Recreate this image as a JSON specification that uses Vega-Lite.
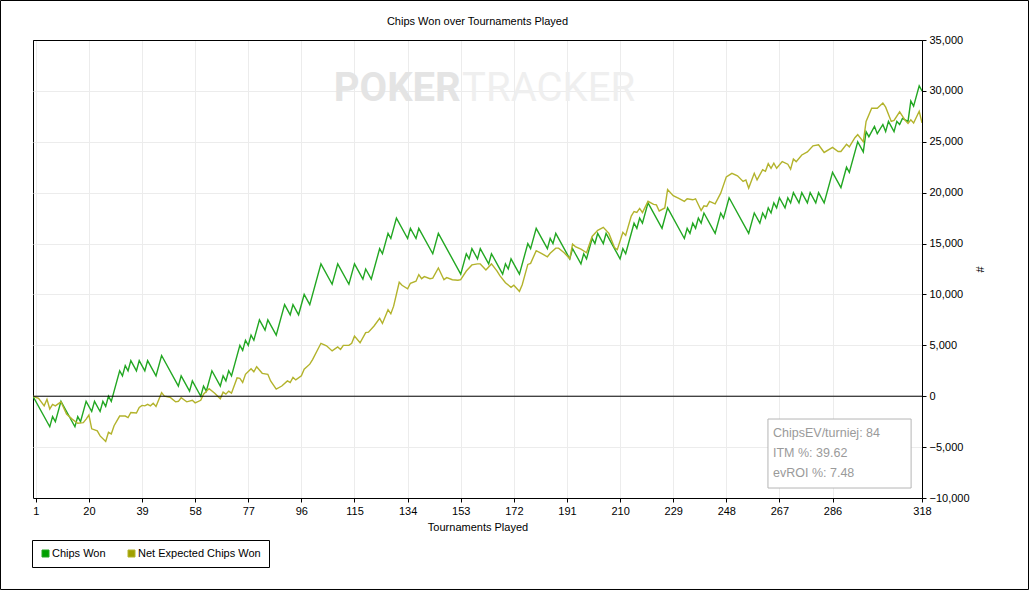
{
  "$schema": "https://vega.github.io/schema/vega-lite/v6.json",
  "width": 889,
  "height": 458,
  "autosize": {"type": "none"},
  "padding": {"left": 33, "top": 40, "right": 107, "bottom": 92},
  "background": "white",
  "title": {"text": "Chips Won over Tournaments Played", "fontSize": 11, "fontWeight": "normal", "font": "Liberation Sans", "color": "black", "offset": -27, "frame": "group"},
  "datasets": {
    "chips": [
      {"tournament":0,"series":"Chips Won","chips":0},{"tournament":6,"series":"Chips Won","chips":-3000},{"tournament":7,"series":"Chips Won","chips":-2000},{"tournament":8,"series":"Chips Won","chips":-2500},{"tournament":10,"series":"Chips Won","chips":-500},{"tournament":15,"series":"Chips Won","chips":-3000},{"tournament":16,"series":"Chips Won","chips":-2000},{"tournament":17,"series":"Chips Won","chips":-2500},{"tournament":19,"series":"Chips Won","chips":-500},{"tournament":21,"series":"Chips Won","chips":-1500},{"tournament":22,"series":"Chips Won","chips":-500},{"tournament":24,"series":"Chips Won","chips":-1500},{"tournament":25,"series":"Chips Won","chips":-500},{"tournament":26,"series":"Chips Won","chips":-1000},{"tournament":27,"series":"Chips Won","chips":0},{"tournament":28,"series":"Chips Won","chips":-500},{"tournament":31,"series":"Chips Won","chips":2500},{"tournament":32,"series":"Chips Won","chips":2000},{"tournament":33,"series":"Chips Won","chips":3000},{"tournament":34,"series":"Chips Won","chips":2500},{"tournament":35,"series":"Chips Won","chips":3500},{"tournament":37,"series":"Chips Won","chips":2500},{"tournament":38,"series":"Chips Won","chips":3500},{"tournament":40,"series":"Chips Won","chips":2500},{"tournament":41,"series":"Chips Won","chips":3500},{"tournament":44,"series":"Chips Won","chips":2000},{"tournament":46,"series":"Chips Won","chips":4000},{"tournament":52,"series":"Chips Won","chips":1000},{"tournament":53,"series":"Chips Won","chips":2000},{"tournament":56,"series":"Chips Won","chips":500},{"tournament":57,"series":"Chips Won","chips":1500},{"tournament":60,"series":"Chips Won","chips":0},{"tournament":61,"series":"Chips Won","chips":1000},{"tournament":62,"series":"Chips Won","chips":500},{"tournament":64,"series":"Chips Won","chips":2500},{"tournament":67,"series":"Chips Won","chips":1000},{"tournament":68,"series":"Chips Won","chips":2000},{"tournament":69,"series":"Chips Won","chips":1500},{"tournament":70,"series":"Chips Won","chips":2500},{"tournament":71,"series":"Chips Won","chips":2000},{"tournament":74,"series":"Chips Won","chips":5000},{"tournament":75,"series":"Chips Won","chips":4500},{"tournament":76,"series":"Chips Won","chips":5500},{"tournament":77,"series":"Chips Won","chips":5000},{"tournament":78,"series":"Chips Won","chips":6000},{"tournament":79,"series":"Chips Won","chips":5500},{"tournament":81,"series":"Chips Won","chips":7500},{"tournament":83,"series":"Chips Won","chips":6500},{"tournament":84,"series":"Chips Won","chips":7500},{"tournament":87,"series":"Chips Won","chips":6000},{"tournament":90,"series":"Chips Won","chips":9000},{"tournament":92,"series":"Chips Won","chips":8000},{"tournament":93,"series":"Chips Won","chips":9000},{"tournament":95,"series":"Chips Won","chips":8000},{"tournament":97,"series":"Chips Won","chips":10000},{"tournament":99,"series":"Chips Won","chips":9000},{"tournament":103,"series":"Chips Won","chips":13000},{"tournament":107,"series":"Chips Won","chips":11000},{"tournament":109,"series":"Chips Won","chips":13000},{"tournament":113,"series":"Chips Won","chips":11000},{"tournament":115,"series":"Chips Won","chips":13000},{"tournament":118,"series":"Chips Won","chips":11500},{"tournament":119,"series":"Chips Won","chips":12500},{"tournament":121,"series":"Chips Won","chips":11500},{"tournament":124,"series":"Chips Won","chips":14500},{"tournament":125,"series":"Chips Won","chips":14000},{"tournament":127,"series":"Chips Won","chips":16000},{"tournament":128,"series":"Chips Won","chips":15500},{"tournament":130,"series":"Chips Won","chips":17500},{"tournament":134,"series":"Chips Won","chips":15500},{"tournament":135,"series":"Chips Won","chips":16500},{"tournament":137,"series":"Chips Won","chips":15500},{"tournament":138,"series":"Chips Won","chips":16500},{"tournament":143,"series":"Chips Won","chips":14000},{"tournament":145,"series":"Chips Won","chips":16000},{"tournament":153,"series":"Chips Won","chips":12000},{"tournament":155,"series":"Chips Won","chips":14000},{"tournament":156,"series":"Chips Won","chips":13500},{"tournament":157,"series":"Chips Won","chips":14500},{"tournament":159,"series":"Chips Won","chips":13500},{"tournament":160,"series":"Chips Won","chips":14500},{"tournament":163,"series":"Chips Won","chips":13000},{"tournament":164,"series":"Chips Won","chips":14000},{"tournament":168,"series":"Chips Won","chips":12000},{"tournament":169,"series":"Chips Won","chips":13000},{"tournament":170,"series":"Chips Won","chips":12500},{"tournament":171,"series":"Chips Won","chips":13500},{"tournament":174,"series":"Chips Won","chips":12000},{"tournament":177,"series":"Chips Won","chips":15000},{"tournament":178,"series":"Chips Won","chips":14500},{"tournament":180,"series":"Chips Won","chips":16500},{"tournament":184,"series":"Chips Won","chips":14500},{"tournament":185,"series":"Chips Won","chips":15500},{"tournament":186,"series":"Chips Won","chips":15000},{"tournament":187,"series":"Chips Won","chips":16000},{"tournament":192,"series":"Chips Won","chips":13500},{"tournament":193,"series":"Chips Won","chips":14500},{"tournament":194,"series":"Chips Won","chips":14000},{"tournament":196,"series":"Chips Won","chips":13000},{"tournament":197,"series":"Chips Won","chips":14000},{"tournament":198,"series":"Chips Won","chips":13500},{"tournament":200,"series":"Chips Won","chips":15500},{"tournament":201,"series":"Chips Won","chips":15000},{"tournament":202,"series":"Chips Won","chips":16000},{"tournament":204,"series":"Chips Won","chips":15000},{"tournament":205,"series":"Chips Won","chips":16000},{"tournament":210,"series":"Chips Won","chips":13500},{"tournament":211,"series":"Chips Won","chips":14500},{"tournament":212,"series":"Chips Won","chips":14000},{"tournament":215,"series":"Chips Won","chips":17000},{"tournament":216,"series":"Chips Won","chips":16500},{"tournament":217,"series":"Chips Won","chips":17500},{"tournament":218,"series":"Chips Won","chips":17000},{"tournament":220,"series":"Chips Won","chips":19000},{"tournament":225,"series":"Chips Won","chips":16500},{"tournament":227,"series":"Chips Won","chips":18500},{"tournament":233,"series":"Chips Won","chips":15500},{"tournament":234,"series":"Chips Won","chips":16500},{"tournament":235,"series":"Chips Won","chips":16000},{"tournament":236,"series":"Chips Won","chips":17000},{"tournament":237,"series":"Chips Won","chips":16500},{"tournament":238,"series":"Chips Won","chips":17500},{"tournament":239,"series":"Chips Won","chips":17000},{"tournament":240,"series":"Chips Won","chips":18000},{"tournament":244,"series":"Chips Won","chips":16000},{"tournament":246,"series":"Chips Won","chips":18000},{"tournament":247,"series":"Chips Won","chips":17500},{"tournament":249,"series":"Chips Won","chips":19500},{"tournament":256,"series":"Chips Won","chips":16000},{"tournament":258,"series":"Chips Won","chips":18000},{"tournament":260,"series":"Chips Won","chips":17000},{"tournament":261,"series":"Chips Won","chips":18000},{"tournament":262,"series":"Chips Won","chips":17500},{"tournament":263,"series":"Chips Won","chips":18500},{"tournament":264,"series":"Chips Won","chips":18000},{"tournament":265,"series":"Chips Won","chips":19000},{"tournament":266,"series":"Chips Won","chips":18500},{"tournament":267,"series":"Chips Won","chips":19500},{"tournament":269,"series":"Chips Won","chips":18500},{"tournament":270,"series":"Chips Won","chips":19500},{"tournament":271,"series":"Chips Won","chips":19000},{"tournament":272,"series":"Chips Won","chips":20000},{"tournament":274,"series":"Chips Won","chips":19000},{"tournament":275,"series":"Chips Won","chips":20000},{"tournament":277,"series":"Chips Won","chips":19000},{"tournament":278,"series":"Chips Won","chips":20000},{"tournament":280,"series":"Chips Won","chips":19000},{"tournament":281,"series":"Chips Won","chips":20000},{"tournament":283,"series":"Chips Won","chips":19000},{"tournament":286,"series":"Chips Won","chips":22000},{"tournament":289,"series":"Chips Won","chips":20500},{"tournament":291,"series":"Chips Won","chips":22500},{"tournament":292,"series":"Chips Won","chips":22000},{"tournament":295,"series":"Chips Won","chips":25000},{"tournament":297,"series":"Chips Won","chips":24000},{"tournament":298,"series":"Chips Won","chips":26000},{"tournament":299,"series":"Chips Won","chips":25500},{"tournament":301,"series":"Chips Won","chips":26500},{"tournament":302,"series":"Chips Won","chips":25800},{"tournament":304,"series":"Chips Won","chips":26700},{"tournament":305,"series":"Chips Won","chips":26000},{"tournament":306,"series":"Chips Won","chips":27000},{"tournament":308,"series":"Chips Won","chips":26000},{"tournament":309,"series":"Chips Won","chips":27000},{"tournament":310,"series":"Chips Won","chips":26700},{"tournament":311,"series":"Chips Won","chips":27300},{"tournament":313,"series":"Chips Won","chips":27000},{"tournament":314,"series":"Chips Won","chips":29000},{"tournament":315,"series":"Chips Won","chips":28500},{"tournament":317,"series":"Chips Won","chips":30500},{"tournament":318,"series":"Chips Won","chips":30000},
      {"tournament":0,"series":"Net Expected Chips Won","chips":0},{"tournament":2,"series":"Net Expected Chips Won","chips":-200},{"tournament":4,"series":"Net Expected Chips Won","chips":-950},{"tournament":5,"series":"Net Expected Chips Won","chips":-300},{"tournament":6,"series":"Net Expected Chips Won","chips":-1250},{"tournament":7,"series":"Net Expected Chips Won","chips":-800},{"tournament":8,"series":"Net Expected Chips Won","chips":-950},{"tournament":10,"series":"Net Expected Chips Won","chips":-550},{"tournament":12,"series":"Net Expected Chips Won","chips":-1750},{"tournament":14,"series":"Net Expected Chips Won","chips":-2250},{"tournament":16,"series":"Net Expected Chips Won","chips":-2650},{"tournament":18,"series":"Net Expected Chips Won","chips":-2600},{"tournament":19,"series":"Net Expected Chips Won","chips":-2250},{"tournament":20,"series":"Net Expected Chips Won","chips":-1850},{"tournament":21,"series":"Net Expected Chips Won","chips":-3200},{"tournament":23,"series":"Net Expected Chips Won","chips":-3400},{"tournament":24,"series":"Net Expected Chips Won","chips":-3900},{"tournament":26,"series":"Net Expected Chips Won","chips":-4450},{"tournament":27,"series":"Net Expected Chips Won","chips":-3550},{"tournament":28,"series":"Net Expected Chips Won","chips":-3700},{"tournament":29,"series":"Net Expected Chips Won","chips":-2900},{"tournament":31,"series":"Net Expected Chips Won","chips":-1950},{"tournament":33,"series":"Net Expected Chips Won","chips":-1950},{"tournament":34,"series":"Net Expected Chips Won","chips":-2100},{"tournament":35,"series":"Net Expected Chips Won","chips":-1600},{"tournament":37,"series":"Net Expected Chips Won","chips":-1650},{"tournament":38,"series":"Net Expected Chips Won","chips":-1100},{"tournament":39,"series":"Net Expected Chips Won","chips":-900},{"tournament":40,"series":"Net Expected Chips Won","chips":-950},{"tournament":41,"series":"Net Expected Chips Won","chips":-800},{"tournament":42,"series":"Net Expected Chips Won","chips":-950},{"tournament":43,"series":"Net Expected Chips Won","chips":-700},{"tournament":44,"series":"Net Expected Chips Won","chips":-1000},{"tournament":46,"series":"Net Expected Chips Won","chips":350},{"tournament":47,"series":"Net Expected Chips Won","chips":0},{"tournament":49,"series":"Net Expected Chips Won","chips":-100},{"tournament":51,"series":"Net Expected Chips Won","chips":-550},{"tournament":52,"series":"Net Expected Chips Won","chips":-500},{"tournament":53,"series":"Net Expected Chips Won","chips":-150},{"tournament":55,"series":"Net Expected Chips Won","chips":-550},{"tournament":57,"series":"Net Expected Chips Won","chips":-400},{"tournament":58,"series":"Net Expected Chips Won","chips":-650},{"tournament":60,"series":"Net Expected Chips Won","chips":-400},{"tournament":61,"series":"Net Expected Chips Won","chips":200},{"tournament":63,"series":"Net Expected Chips Won","chips":750},{"tournament":65,"series":"Net Expected Chips Won","chips":300},{"tournament":67,"series":"Net Expected Chips Won","chips":-250},{"tournament":68,"series":"Net Expected Chips Won","chips":400},{"tournament":69,"series":"Net Expected Chips Won","chips":200},{"tournament":70,"series":"Net Expected Chips Won","chips":500},{"tournament":71,"series":"Net Expected Chips Won","chips":300},{"tournament":73,"series":"Net Expected Chips Won","chips":1800},{"tournament":74,"series":"Net Expected Chips Won","chips":1750},{"tournament":75,"series":"Net Expected Chips Won","chips":1350},{"tournament":76,"series":"Net Expected Chips Won","chips":2150},{"tournament":78,"series":"Net Expected Chips Won","chips":2700},{"tournament":79,"series":"Net Expected Chips Won","chips":2400},{"tournament":80,"series":"Net Expected Chips Won","chips":2900},{"tournament":82,"series":"Net Expected Chips Won","chips":2250},{"tournament":84,"series":"Net Expected Chips Won","chips":2150},{"tournament":85,"series":"Net Expected Chips Won","chips":1500},{"tournament":87,"series":"Net Expected Chips Won","chips":700},{"tournament":89,"series":"Net Expected Chips Won","chips":1000},{"tournament":91,"series":"Net Expected Chips Won","chips":1500},{"tournament":92,"series":"Net Expected Chips Won","chips":1350},{"tournament":93,"series":"Net Expected Chips Won","chips":1850},{"tournament":94,"series":"Net Expected Chips Won","chips":1600},{"tournament":96,"series":"Net Expected Chips Won","chips":2000},{"tournament":97,"series":"Net Expected Chips Won","chips":2650},{"tournament":99,"series":"Net Expected Chips Won","chips":3150},{"tournament":100,"series":"Net Expected Chips Won","chips":3600},{"tournament":103,"series":"Net Expected Chips Won","chips":5200},{"tournament":105,"series":"Net Expected Chips Won","chips":4950},{"tournament":107,"series":"Net Expected Chips Won","chips":4450},{"tournament":109,"series":"Net Expected Chips Won","chips":4850},{"tournament":110,"series":"Net Expected Chips Won","chips":4600},{"tournament":111,"series":"Net Expected Chips Won","chips":5000},{"tournament":113,"series":"Net Expected Chips Won","chips":5000},{"tournament":114,"series":"Net Expected Chips Won","chips":5200},{"tournament":115,"series":"Net Expected Chips Won","chips":5900},{"tournament":117,"series":"Net Expected Chips Won","chips":5250},{"tournament":119,"series":"Net Expected Chips Won","chips":6250},{"tournament":120,"series":"Net Expected Chips Won","chips":6300},{"tournament":122,"series":"Net Expected Chips Won","chips":6900},{"tournament":124,"series":"Net Expected Chips Won","chips":7650},{"tournament":125,"series":"Net Expected Chips Won","chips":7150},{"tournament":127,"series":"Net Expected Chips Won","chips":8500},{"tournament":128,"series":"Net Expected Chips Won","chips":8100},{"tournament":129,"series":"Net Expected Chips Won","chips":8850},{"tournament":131,"series":"Net Expected Chips Won","chips":11200},{"tournament":132,"series":"Net Expected Chips Won","chips":10900},{"tournament":134,"series":"Net Expected Chips Won","chips":10550},{"tournament":135,"series":"Net Expected Chips Won","chips":11100},{"tournament":137,"series":"Net Expected Chips Won","chips":11300},{"tournament":138,"series":"Net Expected Chips Won","chips":11950},{"tournament":139,"series":"Net Expected Chips Won","chips":11550},{"tournament":140,"series":"Net Expected Chips Won","chips":11750},{"tournament":142,"series":"Net Expected Chips Won","chips":11550},{"tournament":143,"series":"Net Expected Chips Won","chips":11600},{"tournament":145,"series":"Net Expected Chips Won","chips":12600},{"tournament":147,"series":"Net Expected Chips Won","chips":11450},{"tournament":148,"series":"Net Expected Chips Won","chips":11650},{"tournament":150,"series":"Net Expected Chips Won","chips":11450},{"tournament":152,"series":"Net Expected Chips Won","chips":11400},{"tournament":153,"series":"Net Expected Chips Won","chips":11450},{"tournament":155,"series":"Net Expected Chips Won","chips":12300},{"tournament":157,"series":"Net Expected Chips Won","chips":12900},{"tournament":159,"series":"Net Expected Chips Won","chips":13000},{"tournament":160,"series":"Net Expected Chips Won","chips":13000},{"tournament":162,"series":"Net Expected Chips Won","chips":12400},{"tournament":164,"series":"Net Expected Chips Won","chips":13000},{"tournament":166,"series":"Net Expected Chips Won","chips":12300},{"tournament":167,"series":"Net Expected Chips Won","chips":11850},{"tournament":169,"series":"Net Expected Chips Won","chips":11150},{"tournament":171,"series":"Net Expected Chips Won","chips":10700},{"tournament":172,"series":"Net Expected Chips Won","chips":10900},{"tournament":174,"series":"Net Expected Chips Won","chips":10300},{"tournament":175,"series":"Net Expected Chips Won","chips":10950},{"tournament":177,"series":"Net Expected Chips Won","chips":12950},{"tournament":178,"series":"Net Expected Chips Won","chips":13050},{"tournament":180,"series":"Net Expected Chips Won","chips":14300},{"tournament":182,"series":"Net Expected Chips Won","chips":14000},{"tournament":184,"series":"Net Expected Chips Won","chips":13700},{"tournament":185,"series":"Net Expected Chips Won","chips":14050},{"tournament":187,"series":"Net Expected Chips Won","chips":14550},{"tournament":188,"series":"Net Expected Chips Won","chips":14550},{"tournament":190,"series":"Net Expected Chips Won","chips":14100},{"tournament":192,"series":"Net Expected Chips Won","chips":13500},{"tournament":193,"series":"Net Expected Chips Won","chips":14950},{"tournament":194,"series":"Net Expected Chips Won","chips":14700},{"tournament":196,"series":"Net Expected Chips Won","chips":14450},{"tournament":198,"series":"Net Expected Chips Won","chips":14100},{"tournament":200,"series":"Net Expected Chips Won","chips":15700},{"tournament":202,"series":"Net Expected Chips Won","chips":16300},{"tournament":204,"series":"Net Expected Chips Won","chips":16600},{"tournament":206,"series":"Net Expected Chips Won","chips":16000},{"tournament":208,"series":"Net Expected Chips Won","chips":14600},{"tournament":209,"series":"Net Expected Chips Won","chips":14400},{"tournament":211,"series":"Net Expected Chips Won","chips":16100},{"tournament":212,"series":"Net Expected Chips Won","chips":15800},{"tournament":214,"series":"Net Expected Chips Won","chips":17700},{"tournament":215,"series":"Net Expected Chips Won","chips":18150},{"tournament":216,"series":"Net Expected Chips Won","chips":18050},{"tournament":217,"series":"Net Expected Chips Won","chips":18450},{"tournament":218,"series":"Net Expected Chips Won","chips":18050},{"tournament":220,"series":"Net Expected Chips Won","chips":19150},{"tournament":222,"series":"Net Expected Chips Won","chips":18850},{"tournament":223,"series":"Net Expected Chips Won","chips":18800},{"tournament":224,"series":"Net Expected Chips Won","chips":18200},{"tournament":226,"series":"Net Expected Chips Won","chips":18500},{"tournament":227,"series":"Net Expected Chips Won","chips":20300},{"tournament":229,"series":"Net Expected Chips Won","chips":19700},{"tournament":231,"series":"Net Expected Chips Won","chips":19450},{"tournament":233,"series":"Net Expected Chips Won","chips":19150},{"tournament":234,"series":"Net Expected Chips Won","chips":19400},{"tournament":236,"series":"Net Expected Chips Won","chips":19300},{"tournament":237,"series":"Net Expected Chips Won","chips":19400},{"tournament":239,"series":"Net Expected Chips Won","chips":18250},{"tournament":240,"series":"Net Expected Chips Won","chips":18700},{"tournament":241,"series":"Net Expected Chips Won","chips":18650},{"tournament":242,"series":"Net Expected Chips Won","chips":19150},{"tournament":244,"series":"Net Expected Chips Won","chips":18900},{"tournament":246,"series":"Net Expected Chips Won","chips":19950},{"tournament":248,"series":"Net Expected Chips Won","chips":21550},{"tournament":250,"series":"Net Expected Chips Won","chips":21900},{"tournament":252,"series":"Net Expected Chips Won","chips":21650},{"tournament":254,"series":"Net Expected Chips Won","chips":21100},{"tournament":255,"series":"Net Expected Chips Won","chips":21250},{"tournament":256,"series":"Net Expected Chips Won","chips":20450},{"tournament":258,"series":"Net Expected Chips Won","chips":21900},{"tournament":259,"series":"Net Expected Chips Won","chips":21250},{"tournament":261,"series":"Net Expected Chips Won","chips":22250},{"tournament":262,"series":"Net Expected Chips Won","chips":22100},{"tournament":263,"series":"Net Expected Chips Won","chips":22850},{"tournament":264,"series":"Net Expected Chips Won","chips":22400},{"tournament":265,"series":"Net Expected Chips Won","chips":22900},{"tournament":266,"series":"Net Expected Chips Won","chips":22400},{"tournament":268,"series":"Net Expected Chips Won","chips":23050},{"tournament":270,"series":"Net Expected Chips Won","chips":22800},{"tournament":271,"series":"Net Expected Chips Won","chips":22300},{"tournament":272,"series":"Net Expected Chips Won","chips":23300},{"tournament":273,"series":"Net Expected Chips Won","chips":23050},{"tournament":275,"series":"Net Expected Chips Won","chips":23700},{"tournament":277,"series":"Net Expected Chips Won","chips":24000},{"tournament":279,"series":"Net Expected Chips Won","chips":24600},{"tournament":281,"series":"Net Expected Chips Won","chips":24700},{"tournament":283,"series":"Net Expected Chips Won","chips":23950},{"tournament":286,"series":"Net Expected Chips Won","chips":24450},{"tournament":288,"series":"Net Expected Chips Won","chips":24050},{"tournament":289,"series":"Net Expected Chips Won","chips":24050},{"tournament":291,"series":"Net Expected Chips Won","chips":24750},{"tournament":292,"series":"Net Expected Chips Won","chips":24500},{"tournament":294,"series":"Net Expected Chips Won","chips":25400},{"tournament":295,"series":"Net Expected Chips Won","chips":25700},{"tournament":297,"series":"Net Expected Chips Won","chips":25000},{"tournament":298,"series":"Net Expected Chips Won","chips":27000},{"tournament":300,"series":"Net Expected Chips Won","chips":28300},{"tournament":302,"series":"Net Expected Chips Won","chips":28300},{"tournament":304,"series":"Net Expected Chips Won","chips":28800},{"tournament":305,"series":"Net Expected Chips Won","chips":28400},{"tournament":307,"series":"Net Expected Chips Won","chips":27000},{"tournament":308,"series":"Net Expected Chips Won","chips":27100},{"tournament":310,"series":"Net Expected Chips Won","chips":27950},{"tournament":312,"series":"Net Expected Chips Won","chips":27100},{"tournament":313,"series":"Net Expected Chips Won","chips":26800},{"tournament":314,"series":"Net Expected Chips Won","chips":27150},{"tournament":315,"series":"Net Expected Chips Won","chips":26850},{"tournament":317,"series":"Net Expected Chips Won","chips":28000},{"tournament":318,"series":"Net Expected Chips Won","chips":26850}
    ],
    "stats": [{"text": "ChipsEV/turniej: 84\nITM %: 39.62\nevROI %: 7.48"}],
    "one": [{}]
  },
  "layer": [
    {
      "data": {"name": "chips"},
      "mark": {"type": "line", "strokeWidth": 1.4, "clip": true},
      "encoding": {
        "x": {
          "field": "tournament", "type": "quantitative",
          "scale": {"domain": [0, 318], "nice": false, "zero": false},
          "axis": {"title": "Tournaments Played", "values": [1, 20, 39, 58, 77, 96, 115, 134, 153, 172, 191, 210, 229, 248, 267, 286, 318], "labelExpr": "format(datum.value, 'd')", "grid": true, "titleY": 29, "titleBaseline": "middle"}
        },
        "y": {
          "field": "chips", "type": "quantitative",
          "scale": {"domain": [-10000, 35000], "nice": false, "zero": false},
          "axis": {"title": "#", "orient": "right", "values": [-10000, -5000, 0, 5000, 10000, 15000, 20000, 25000, 30000, 35000], "labelExpr": "format(datum.value, ',')", "grid": true, "gridColor": {"condition": {"test": "datum.value === 35000", "value": "black"}, "value": "#ececec"}, "titleX": 56, "titleY": 229, "titleAngle": 90, "titleBaseline": "middle", "titleAlign": "center"}
        },
        "color": {
          "field": "series", "type": "nominal",
          "scale": {"domain": ["Chips Won", "Net Expected Chips Won"], "range": ["#22a722", "#b3b32c"]},
          "legend": {
            "title": null, "orient": "none", "legendX": -1, "legendY": 500, "direction": "horizontal",
            "symbolType": "square", "symbolSize": 49, "columnPadding": 20, "labelOffset": 1,
            "padding": 8, "strokeColor": "black", "fillColor": "white",
            "labelFont": "Liberation Sans", "labelFontSize": 11, "labelColor": "black",
            "encode": {"symbols": {"update": {"fill": {"signal": "datum.value === 'Chips Won' ? '#00a000' : '#a0a000'"}, "stroke": {"value": "black"}, "strokeWidth": {"value": 1}, "fillOpacity": {"value": 1}, "opacity": {"value": 1}}}}
          }
        }
      }
    },
    {
      "data": {"name": "one"},
      "mark": {"type": "text", "text": "POKER", "font": "Roboto", "fontSize": 40, "fontWeight": "bold", "color": "#e4e4e4", "align": "right", "baseline": "middle"},
      "encoding": {
        "x": {"datum": 153, "type": "quantitative"},
        "y": {"datum": 30200, "type": "quantitative"}
      }
    },
    {
      "data": {"name": "one"},
      "mark": {"type": "text", "text": "TRACKER", "font": "Roboto", "fontSize": 40, "fontWeight": "normal", "color": "#efefef", "align": "left", "baseline": "middle"},
      "encoding": {
        "x": {"datum": 153.5, "type": "quantitative"},
        "y": {"datum": 30200, "type": "quantitative"}
      }
    },
    {
      "data": {"name": "one"},
      "mark": {"type": "rule", "color": "black", "strokeWidth": 1},
      "encoding": {
        "y": {"datum": 0, "type": "quantitative"}
      }
    },
    {
      "data": {"name": "one"},
      "mark": {"type": "rect", "fill": "white", "stroke": "#b5b5b5", "strokeWidth": 1},
      "encoding": {
        "x": {"datum": 262.9, "type": "quantitative"},
        "x2": {"datum": 314.1},
        "y": {"datum": -2240, "type": "quantitative"},
        "y2": {"datum": -9020}
      }
    },
    {
      "data": {"name": "stats"},
      "transform": [{"calculate": "split(datum.text, '\\n')", "as": "lines"}],
      "mark": {"type": "text", "font": "Liberation Sans", "fontSize": 12.5, "color": "#9a9a9a", "align": "left", "baseline": "middle", "lineHeight": 20},
      "encoding": {
        "x": {"datum": 264.7, "type": "quantitative"},
        "y": {"datum": -3570, "type": "quantitative"},
        "text": {"field": "lines"}
      }
    },
    {
      "data": {"name": "one"},
      "mark": {"type": "rect", "filled": false, "stroke": "black", "strokeWidth": 1, "clip": false},
      "encoding": {
        "x": {"datum": -11.63, "type": "quantitative"},
        "x2": {"datum": 356.1},
        "y": {"datum": 38880, "type": "quantitative"},
        "y2": {"datum": -18990}
      }
    }
  ],
  "config": {
    "font": "Liberation Sans",
    "view": {"stroke": "black", "strokeWidth": 1},
    "axis": {
      "labelFont": "Liberation Sans", "labelFontSize": 11, "labelColor": "black",
      "titleFont": "Liberation Sans", "titleFontSize": 11, "titleFontWeight": "normal", "titleColor": "black",
      "domainColor": "black", "tickColor": "black", "tickSize": 4, "labelPadding": 3,
      "gridColor": "#ececec", "gridWidth": 1, "labelFlush": false, "labelOverlap": false
    }
  }
}
